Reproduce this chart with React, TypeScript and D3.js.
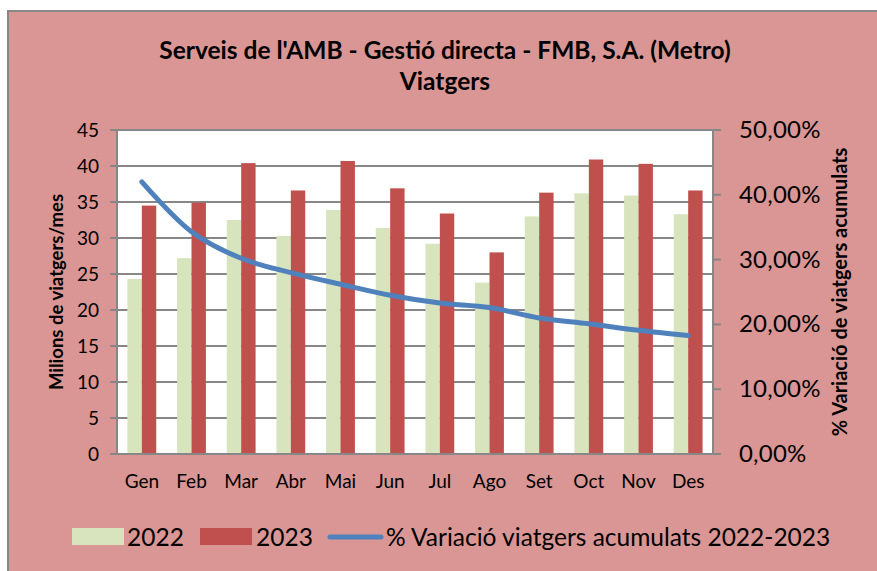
import React from "react";
import * as d3 from "d3";

const months = ["Gen", "Feb", "Mar", "Abr", "Mai", "Jun", "Jul", "Ago", "Set", "Oct", "Nov", "Des"];
const values2022 = [24.3, 27.2, 32.5, 30.3, 33.9, 31.4, 29.2, 23.8, 33.0, 36.2, 35.9, 33.3];
const values2023 = [34.5, 34.9, 40.4, 36.6, 40.7, 36.9, 33.4, 28.0, 36.3, 40.9, 40.3, 36.6];
const variacio = [42.0, 34.3, 30.2, 28.0, 26.2, 24.5, 23.3, 22.6, 21.0, 20.1, 19.1, 18.3];
const leftTicks = [0, 5, 10, 15, 20, 25, 30, 35, 40, 45];
const rightTicks = [0, 10, 20, 30, 40, 50];
const titleLines = ["Serveis de l'AMB - Gestió directa - FMB, S.A. (Metro)", "Viatgers"];
const leftAxisTitle = "Milions de viatgers/mes";
const rightAxisTitle = "% Variació de viatgers acumulats";
const legendLabels = ["2022", "2023", "% Variació viatgers acumulats 2022-2023"];

const W = 877;
const H = 571;
const plot = { left: 117, top: 130, right: 713, bottom: 454 };
const FONT = "Lato, 'Open Sans', sans-serif";
const C = {
  bg: "#D99694",
  g: "#D7E4BD",
  r: "#C0504D",
  line: "#4F81BD",
  grid: "#878787",
};

export default function App() {
  const x0 = d3.scaleBand<string>().domain(months).range([plot.left, plot.right]).paddingInner(0.42).paddingOuter(0.21);
  const x1 = d3.scaleBand<string>().domain(["2022", "2023"]).range([0, x0.bandwidth()]);
  const y = d3.scaleLinear().domain([0, 45]).range([plot.bottom, plot.top]);
  const y2 = d3.scaleLinear().domain([0, 50]).range([plot.bottom, plot.top]);
  const xc = (m: string) => (x0(m) as number) + x0.bandwidth() / 2;
  const line = d3
    .line<number>()
    .x((_, i) => xc(months[i]))
    .y((d) => y2(d))
    .curve(d3.curveCatmullRom.alpha(0.5));

  const fmtPct = (v: number) => v.toFixed(2).replace(".", ",") + "%";

  return (
    <svg width={W} height={H} style={{ position: "absolute", left: 0, top: 0, background: "#fff" }} fontFamily={FONT}>
      <rect x={8} y={11} width={W + 20} height={H + 20} fill={C.bg} stroke={C.grid} strokeWidth={2} />
      {titleLines.map((t, i) => (
        <text key={i} x={445} y={59 + i * 31} textAnchor="middle" fontWeight="bold" fontSize={24.5} fill="#000">
          {t}
        </text>
      ))}
      <rect x={plot.left} y={plot.top} width={plot.right - plot.left} height={plot.bottom - plot.top} fill="#fff" />
      {leftTicks.map((t) => (
        <g key={t}>
          <line x1={plot.left - 7} x2={plot.right} y1={y(t)} y2={y(t)} stroke={C.grid} strokeWidth={2} />
          <text x={99} y={y(t) + 7} textAnchor="end" fontSize={19} fill="#000">
            {t}
          </text>
        </g>
      ))}
      {rightTicks.map((t) => (
        <g key={t}>
          <line x1={plot.right} x2={plot.right + 8} y1={y2(t)} y2={y2(t)} stroke={C.grid} strokeWidth={2} />
          <text x={739} y={y2(t) + 8} textAnchor="start" fontSize={24} letterSpacing={0.2} fill="#000">
            {fmtPct(t)}
          </text>
        </g>
      ))}
      {months.map((m, i) => (
        <g key={m}>
          <rect x={(x0(m) as number) + (x1("2022") as number)} y={y(values2022[i])} width={x1.bandwidth()} height={plot.bottom - y(values2022[i])} fill={C.g} />
          <rect x={(x0(m) as number) + (x1("2023") as number)} y={y(values2023[i])} width={x1.bandwidth()} height={plot.bottom - y(values2023[i])} fill={C.r} />
          <text x={xc(m)} y={488} textAnchor="middle" fontSize={19} fill="#000">
            {m}
          </text>
        </g>
      ))}
      <line x1={plot.left} x2={plot.left} y1={plot.top} y2={plot.bottom} stroke={C.grid} strokeWidth={2} />
      <line x1={plot.right} x2={plot.right} y1={plot.top} y2={plot.bottom} stroke={C.grid} strokeWidth={2} />
      <line x1={plot.left - 7} x2={plot.right} y1={plot.bottom} y2={plot.bottom} stroke={C.grid} strokeWidth={2} />
      <path d={line(variacio) || ""} fill="none" stroke={C.line} strokeWidth={5} strokeLinecap="round" strokeLinejoin="round" />
      <text transform={`translate(63,${(plot.top + plot.bottom) / 2}) rotate(-90)`} textAnchor="middle" fontWeight="bold" fontSize={18.5} fill="#000">
        {leftAxisTitle}
      </text>
      <text transform={`translate(847,${(plot.top + plot.bottom) / 2}) rotate(-90)`} textAnchor="middle" fontWeight="bold" fontSize={20} fill="#000">
        {rightAxisTitle}
      </text>
      <rect x={72} y={528} width={52} height={17} fill={C.g} />
      <text x={127} y={546} fontSize={24.5} fill="#000">{legendLabels[0]}</text>
      <rect x={200} y={528} width={52} height={17} fill={C.r} />
      <text x={256} y={546} fontSize={24.5} fill="#000">{legendLabels[1]}</text>
      <line x1={330} x2={381} y1={537} y2={537} stroke={C.line} strokeWidth={5} strokeLinecap="round" />
      <text x={386} y={546} fontSize={24.5} fill="#000">{legendLabels[2]}</text>
    </svg>
  );
}
